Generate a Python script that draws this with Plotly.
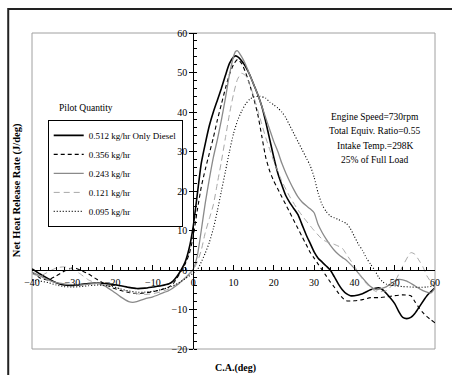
import plotly.graph_objects as go

# ---------------- data ----------------
series_names = ["0.512 kg/hr Only Diesel", "0.356 kg/hr", "0.243 kg/hr", "0.121 kg/hr", "0.095 kg/hr"]

ca_512 = [-40,-38,-36,-34,-32,-30,-28,-26,-24,-22,-20,-18,-16,-14,-12,-10,-8,-6,-5,-4,-3,-2,-1,0,1,2,3,4,5,6,7,8,9,10,10.5,11,12,13,14,15,16,17,18,19,20,21,22,23,24,25,26,27,28,29,30,31,32,33,34,35,36,37,38,39,40,42,44,46,47,48,50,51,52,53,54,55,56,58,60]
hr_512 = [0.3,-1,-2.2,-3.2,-3.8,-3.9,-3.7,-3.4,-3.3,-3.4,-3.6,-4,-4.4,-4.7,-4.6,-4.3,-4,-3.5,-2.8,-1.6,0,2,5.5,11,19,27,32,36.5,40,43,46,49.3,52.3,53.9,54.2,54,53,51.5,49.5,47,44.5,41.5,37.5,33,28.5,24.5,21.5,18.8,17,15.5,14,11.5,9,6.8,4.6,3,2,1,0,-1.7,-3.5,-5,-6,-6.5,-6.5,-6,-5,-4.5,-5,-6,-8.5,-10.5,-12,-12.3,-12,-11,-9.5,-6.5,-4.5]

ca_356 = [-40,-38,-36,-34,-32,-30,-29,-28,-26,-24,-22,-20,-18,-16,-14,-12,-10,-8,-6,-5,-4,-3,-2,-1,0,1,2,3,4,5,6,7,8,9,10,11,12,13,14,15,16,17,18,19,20,21,22,23,24,25,26,27,28,29,30,31,32,33,34,35,36,37,38,40,42,44,46,48,50,52,54,55,56,57,58,60]
hr_356 = [-0.5,-2,-2.5,-1.5,-0.3,0.5,0.4,0,-1,-2.3,-3.5,-4.5,-5.2,-5.7,-6,-5.8,-5.5,-5,-4.3,-3.5,-2,-0.3,1.5,4,8.5,15,21,25.5,29.5,33.5,38,42,46,49.5,52,53.3,52.3,50,47,43.5,39.5,34,28.5,25,22.5,20.5,18.5,16.5,14.5,12.5,10.5,8.5,6.5,4.5,3,1.5,0,-1.5,-3,-4.3,-5.8,-7,-7.8,-7.8,-7.5,-7,-7,-6.8,-6.5,-6.3,-6.5,-8,-9.5,-10.8,-11.8,-13.4]

ca_243 = [-40,-38,-36,-34,-32,-30,-28,-26,-24,-22,-20,-18,-16,-15,-14,-12,-10,-8,-6,-4,-2,-1,0,1,2,3,4,5,6,7,8,9,10,10.5,11,12,13,14,15,16,17,18,19,20,21,22,23,24,25,26,27,28,29,30,31,32,33,34,35,36,37,38,39,40,42,44,45.5,47,48,50,51,53,55,57,59,60]
hr_243 = [-0.5,-1.5,-2.5,-3.2,-3.5,-3.7,-3.8,-3.6,-3.4,-4,-5.3,-6.8,-8,-8.2,-8,-7.3,-6.8,-6,-5.2,-3.8,-2,-1,0.2,3.5,10,17,23,28.5,33,38,43.5,49.5,54,55.3,55.5,54,52,49.5,47,44.5,41.5,38.5,35.5,32.5,30,27,24.5,22.3,20.3,18.5,17.2,16.3,15.5,14.5,11.5,9.5,7.8,6.3,5,4,3.2,2.5,1.5,0.4,-2,-4.2,-5,-4.6,-4.2,-2.8,-2.4,-2.8,-4,-5.2,-5.8,-4.5]

ca_121 = [-40,-38,-36,-34,-32,-30,-28,-26,-24,-22,-20,-18,-16,-14,-12,-10,-8,-6,-4,-2,0,1,2,3,4,5,6,7,8,9,10,11,12,13,14,15,16,17,18,19,20,21,22,24,26,28,30,32,33,35,37,38,40,42,44,45.5,48,50,52,54,55,56,57,58,60]
hr_121 = [-1,-1.5,-0.5,0.5,0.8,0.2,-1,-2.5,-3.3,-3.8,-4.2,-4.8,-5.5,-6,-6.2,-6,-5.5,-4.8,-3.5,-2,0,2,5,9.5,13,16.5,22,27.5,33.5,39.5,44.5,48.3,49.8,49.2,47,44,40.5,37,33.5,30.5,27.5,25,22.5,18.5,15.2,12.5,10,7.8,7.2,6.5,5.5,4,1,-2.3,-4.5,-5.5,-5.2,-3,1,4.4,4,2.5,0.8,-1.5,-4.5]

ca_095 = [-40,-38,-36,-34,-32,-30,-28,-26,-24,-22,-20,-18,-16,-14,-12,-10,-8,-6,-4,-2,0,1,2,3,4,5,6,7,8,9,10,11,12,13,14,15,16.5,18,19,20,21,22,23,24,25,26,27,28,29,30,31,32,33,34,35,36,37,38,39,40,41,42,43,44,45,46,47,48,50,52,54,56,58,60]
hr_095 = [-2.5,-2.8,-3.2,-3.8,-4.2,-4.3,-4.2,-4,-3.8,-3.9,-4.2,-4.8,-5.3,-5.6,-5.6,-5.4,-5,-4.4,-3.5,-2.2,-0.8,0,2,4.3,7,10.5,15,20,25,30,34.5,37.8,40.2,42,43.2,43.8,44,43.5,42.5,41.8,41,40,38.5,36.5,34.5,32.5,30.5,28.5,26.5,23.5,19.5,16.5,14.8,13.7,13.2,12.8,12.3,11.8,10.5,8.5,6.5,5,3,1.5,0,-1.8,-3,-3.6,-4,-4.2,-4.3,-4.4,-4.3,-4]

x_ticks = [-40, -30, -20, -10, 0, 10, 20, 30, 40, 50, 60]
y_ticks = [-20, -10, 0, 10, 20, 30, 40, 50, 60]
info_lines = ["Engine Speed=730rpm", "Total Equiv. Ratio=0.55", "Intake Temp.=298K", "25% of Full Load"]

# ---------------- styles ----------------
styles = [
    dict(color="#000000", width=1.6, dash="solid"),
    dict(color="#000000", width=1.1, dash="4px,3px"),
    dict(color="#8a8a8a", width=1.3, dash="solid"),
    dict(color="#a8a8a8", width=1.0, dash="6px,4px"),
    dict(color="#000000", width=1.1, dash="1px,2px"),
]
xs = [ca_512, ca_356, ca_243, ca_121, ca_095]
ys = [hr_512, hr_356, hr_243, hr_121, hr_095]

FONT = "Liberation Serif"
fig = go.Figure()
for name, x, y, st in zip(series_names, xs, ys, styles):
    fig.add_trace(go.Scatter(x=x, y=y, mode="lines", name=name,
                             line=dict(color=st["color"], width=st["width"], dash=st["dash"],
                                       shape="spline", smoothing=0.6)))

axis_common = dict(showgrid=False, zeroline=False, showline=True, linecolor="black", linewidth=1,
                   tickfont=dict(family=FONT, size=10, color="black"))

fig.update_layout(
    width=452, height=375,
    margin=dict(l=32, r=13, t=33, b=26),
    paper_bgcolor="white", plot_bgcolor="white",
    font=dict(family=FONT, size=10, color="black"),
    xaxis=dict(range=[-40, 60], anchor="free", position=0.25, tickmode="array", tickvals=x_ticks,
               ticks="inside", ticklen=5, tickcolor="black", tickwidth=1, ticklabelstandoff=3,
               minor=dict(dtick=2, ticks="inside", ticklen=3, tickcolor="black"),
               **axis_common),
    yaxis=dict(range=[-20, 60], anchor="free", position=0.4, tickmode="array", tickvals=y_ticks,
               ticks="outside", ticklen=4, tickcolor="black", tickwidth=1,
               minor=dict(dtick=2, ticks="inside", ticklen=3, tickcolor="black"),
               **axis_common),
    showlegend=True,
    legend=dict(x=0.039, y=0.725, xanchor="left", yanchor="top", bordercolor="black", borderwidth=1,
                bgcolor="rgba(255,255,255,0)", font=dict(family=FONT, size=9), itemwidth=30,
                tracegroupgap=0),
)

# plot-area frame and outer frame
fig.add_shape(type="rect", xref="paper", yref="paper", x0=0, y0=0, x1=1, y1=1,
              line=dict(color="#a0a0a0", width=1), layer="below")
fig.add_shape(type="rect", xref="paper", yref="paper", x0=-0.059, y0=-0.12, x1=1.08, y1=1.076,
              line=dict(color="#222222", width=2), layer="below")

# text annotations
def note(x, y, text, size=10, angle=0):
    fig.add_annotation(x=x, y=y, xref="paper", yref="paper", text=text, textangle=angle,
                       xanchor="center", yanchor="middle", showarrow=False,
                       font=dict(family=FONT, size=size, color="black"))

note(0.135, 0.763, "Pilot Quantity", 9.5)
for yy, t in zip([0.734, 0.690, 0.642, 0.598], info_lines):
    note(0.850, yy, t, 9.5)
note(-0.037, 0.503, "<b>Net Heat Release Rate (J/deg)</b>", 10.5, -90)
note(0.504, -0.060, "<b>C.A.(deg)</b>", 10)

fig.write_html("out.html")
